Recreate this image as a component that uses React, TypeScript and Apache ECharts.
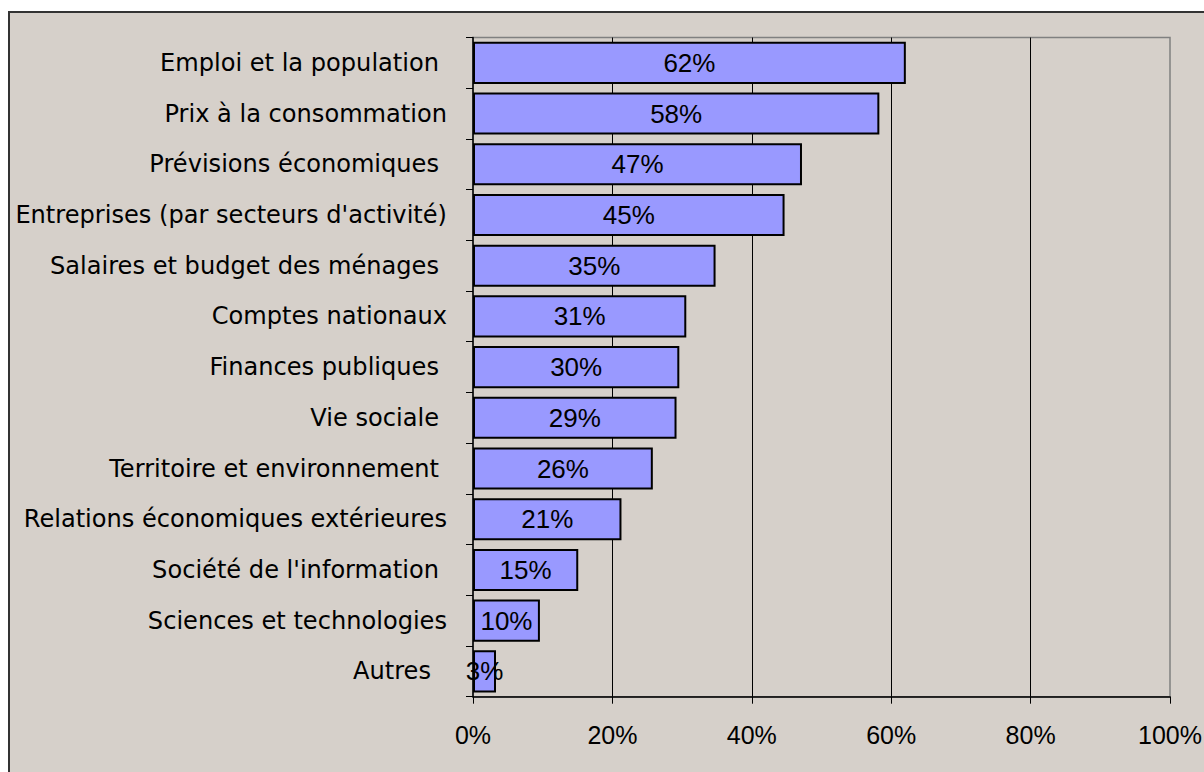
import React, { useEffect, useRef } from "react";
import * as echarts from "echarts";

const categories = [
  "Emploi et la population ",
  "Prix à la consommation",
  "Prévisions économiques ",
  "Entreprises (par secteurs d'activité)",
  "Salaires et budget des ménages ",
  "Comptes nationaux",
  "Finances publiques ",
  "Vie sociale ",
  "Territoire et environnement ",
  "Relations économiques extérieures",
  "Société de l'information ",
  "Sciences et technologies",
  "Autres  ",
];
const values = [62.1, 58.3, 47.2, 44.7, 34.8, 30.6, 29.6, 29.2, 25.8, 21.3, 15.1, 9.6, 3.3];
const xTicks = [0, 20, 40, 60, 80, 100];

const BG = "#D6D0CA";
const CAT_FONT = "'DejaVu Sans', sans-serif";
const CAT_SIZE = 24.1;
const NUM_FONT = "'Liberation Sans', Arial, sans-serif";

export default function App() {
  const ref = useRef<HTMLDivElement>(null);
  useEffect(() => {
    if (!ref.current) return;
    const chart = echarts.init(ref.current, null, { renderer: "svg" });
    const padStyle = (n: number) => ({
      fontFamily: CAT_FONT,
      fontSize: CAT_SIZE,
      color: "#000",
      padding: [0, n, 0, 0],
    });
    chart.setOption({
      animation: false,
      backgroundColor: "transparent",
      grid: {
        left: 463,
        top: 24.5,
        right: 34,
        bottom: 75.3,
        show: true,
        containLabel: false,
        outerBoundsMode: "none",
        borderColor: "#808080",
        borderWidth: 1.5,
        backgroundColor: "transparent",
      },
      xAxis: {
        type: "value",
        min: xTicks[0],
        max: xTicks[xTicks.length - 1],
        interval: 20,
        axisLine: { show: true, lineStyle: { color: "#000", width: 1.5 } },
        axisTick: { show: true, length: 7, lineStyle: { color: "#000", width: 1 } },
        axisLabel: {
          margin: 26,
          fontFamily: NUM_FONT,
          fontSize: 25,
          color: "#000",
          formatter: (v: number) => v + "%",
        },
        splitLine: {
          show: true,
          showMinLine: false,
          showMaxLine: false,
          lineStyle: { color: "#000", width: 1 },
        },
      },
      yAxis: {
        type: "category",
        inverse: true,
        data: categories,
        axisLine: { show: true, lineStyle: { color: "#000", width: 1.5 } },
        axisTick: { show: true, length: 7, lineStyle: { color: "#000", width: 1 } },
        axisLabel: {
          margin: 26,
          fontFamily: CAT_FONT,
          fontSize: CAT_SIZE,
          color: "#000",
          formatter: (name: string) => {
            const t = name.replace(/\s+$/, "");
            const n = name.length - t.length;
            if (n === 1) return "{a|" + t + "}";
            if (n >= 2) return "{b|" + t + "}";
            return t;
          },
          rich: { a: padStyle(8), b: padStyle(16) },
        },
      },
      series: [
        {
          type: "bar",
          data: values,
          barCategoryGap: "17%",
          itemStyle: { color: "#9999FF", borderColor: "#000", borderWidth: 2 },
          label: {
            show: true,
            position: "inside",
            fontFamily: NUM_FONT,
            fontSize: 26,
            color: "#000",
            formatter: (p: any) => Math.round(p.value) + "%",
          },
        },
      ],
    });
    return () => chart.dispose();
  }, []);
  return (
    <div
      style={{
        position: "fixed",
        left: 0,
        top: 0,
        width: 1204,
        height: 772,
        background: "#fff",
        overflow: "hidden",
      }}
    >
      <div
        style={{
          position: "absolute",
          left: 8,
          top: 11,
          width: 1250,
          height: 800,
          border: "2px solid #333",
          background: BG,
        }}
      >
        <div ref={ref} style={{ position: "absolute", left: 0, top: 0, width: 1194, height: 759 }} />
      </div>
    </div>
  );
}
